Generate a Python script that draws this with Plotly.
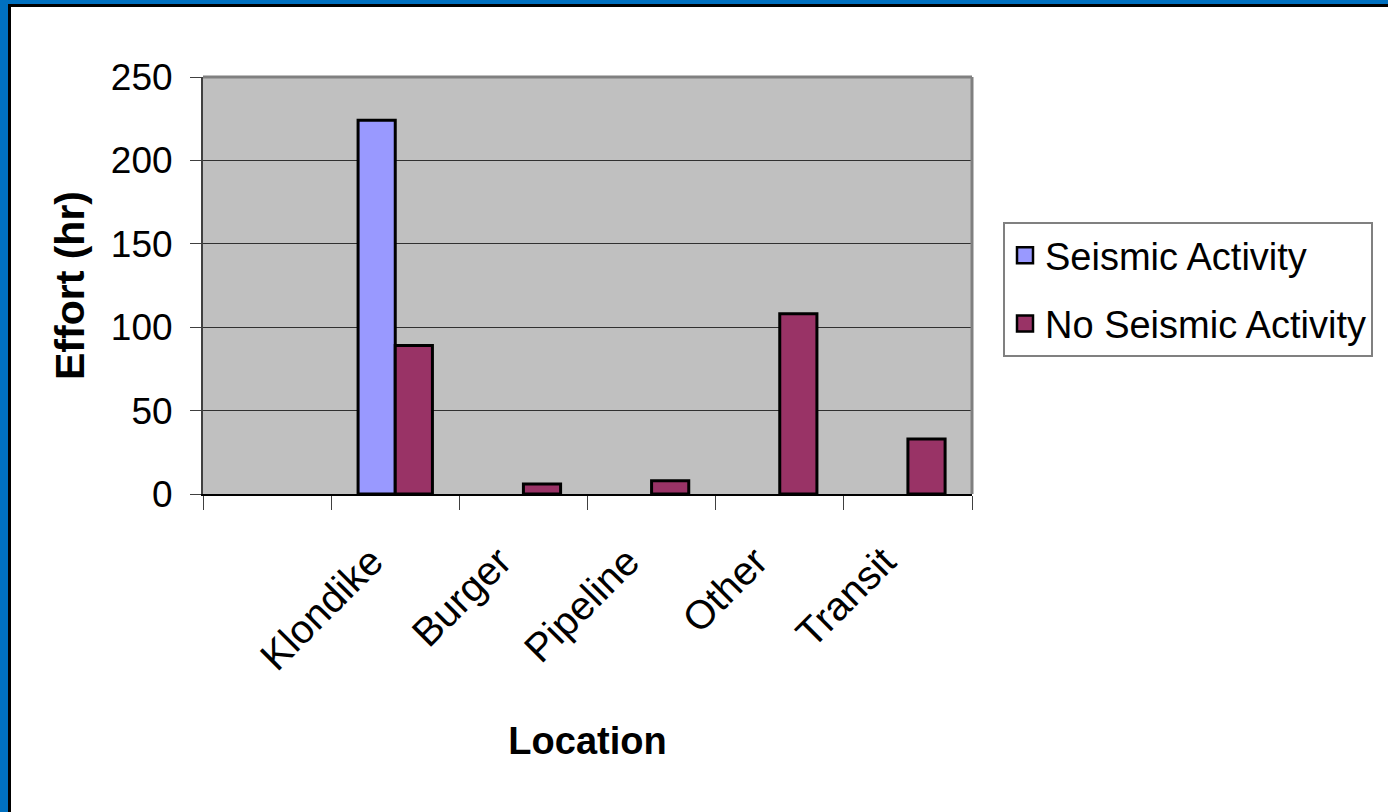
import plotly.graph_objects as go

# ---- data ----
categories = [" ", "Klondike", "Burger", "Pipeline", "Other", "Transit"]
seismic = [None, 224, None, None, None, None]
no_seismic = [None, 89, 6, 8, 108, 33]
y_ticks = [0, 50, 100, 150, 200, 250]
series_names = ["Seismic Activity", "No Seismic Activity"]
series_colors = ["#9999FF", "#993366"]

W, H = 1388, 812
L, R, T, B = 203, 972, 77, 494  # plot area in pixels

def px(x):
    return (x - L) / (R - L)

def py(y):
    return (B - y) / (B - T)

FONT = "Liberation Sans, Arial, sans-serif"

fig = go.Figure()
for vals, name, col, grp in [(seismic, series_names[0], series_colors[0], "a"),
                             (no_seismic, series_names[1], series_colors[1], "b")]:
    fig.add_trace(go.Bar(
        x=categories, y=vals, name=name, legendgroup=grp, showlegend=False,
        marker=dict(color=col, line=dict(color="black", width=3)),
    ))
# legend-only entries with larger square swatches
for name, col, grp in [(series_names[0], series_colors[0], "a"),
                       (series_names[1], series_colors[1], "b")]:
    fig.add_trace(go.Scatter(
        x=[None], y=[None], mode="markers", name=name, legendgroup=grp,
        marker=dict(symbol="square", size=20, color=col,
                    line=dict(color="black", width=2.5)),
    ))

fig.update_layout(
    width=W, height=H,
    margin=dict(l=L, r=W - R, t=T, b=H - B),
    paper_bgcolor="white",
    plot_bgcolor="#C0C0C0",
    barmode="group",
    bargap=0.42,
    bargroupgap=0,
    font=dict(family=FONT, color="black", size=36),
    legend=dict(
        x=px(1003), y=py(222), xanchor="left", yanchor="top",
        bordercolor="#808080", borderwidth=2, bgcolor="white",
        font=dict(size=38, family=FONT),
        tracegroupgap=16,
        traceorder="grouped",
        itemwidth=30,
    ),
    xaxis=dict(
        type="category",
        categoryorder="array", categoryarray=categories,
        tickson="boundaries",
        ticks="outside", ticklen=14, tickcolor="#404040", tickwidth=1,
        showline=True, linecolor="black", linewidth=2,
        tickangle=-45,
        tickfont=dict(size=40),
        ticklabelstandoff=26,
        ticklabelshift=-24,
        showgrid=False,
        title=dict(text="<b>Location</b>", font=dict(size=38), standoff=50),
    ),
    yaxis=dict(
        range=[0, 250], tickvals=y_ticks, ticktext=[str(v) for v in y_ticks],
        ticks="outside", ticklen=11, tickcolor="#404040",
        showline=True, linecolor="#404040", linewidth=2,
        showgrid=True, gridcolor="#303030", gridwidth=1,
        zeroline=False,
        tickfont=dict(size=37),
        ticklabelstandoff=10,
        title=dict(text="<b>Effort (hr)</b>", font=dict(size=41), standoff=14),
    ),
    shapes=[
        dict(type="line", xref="paper", yref="paper", x0=0, x1=1, y0=1, y1=1,
             line=dict(color="#808080", width=3), layer="above"),
        dict(type="line", xref="paper", yref="paper", x0=1, x1=1, y0=0, y1=1,
             line=dict(color="#808080", width=3), layer="above"),
        dict(type="rect", xref="paper", yref="paper",
             x0=px(0), x1=px(8), y0=py(H), y1=py(0),
             fillcolor="#0070C0", line=dict(width=0), layer="above"),
        dict(type="rect", xref="paper", yref="paper",
             x0=px(0), x1=px(W), y0=py(4), y1=py(0),
             fillcolor="#0070C0", line=dict(width=0), layer="above"),
        dict(type="rect", xref="paper", yref="paper",
             x0=px(8), x1=px(11), y0=py(H), y1=py(4),
             fillcolor="black", line=dict(width=0), layer="above"),
        dict(type="rect", xref="paper", yref="paper",
             x0=px(8), x1=px(W), y0=py(7), y1=py(4),
             fillcolor="black", line=dict(width=0), layer="above"),
    ],
)

fig.write_html("out.html")
